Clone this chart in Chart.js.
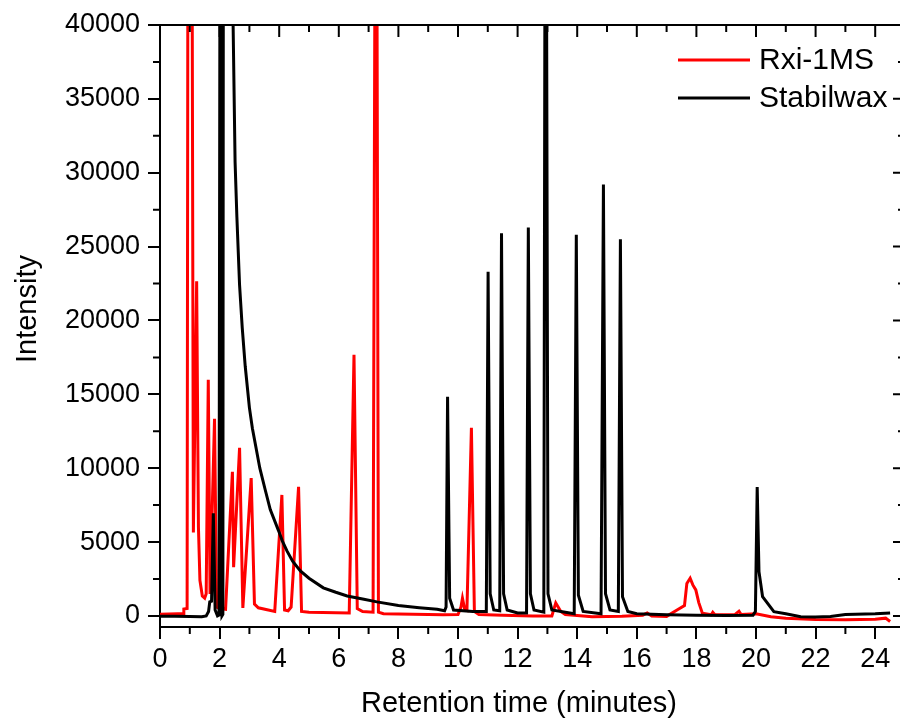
<!DOCTYPE html>
<html><head><meta charset="utf-8">
<script src="https://cdn.jsdelivr.net/npm/chart.js@4.4.1/dist/chart.umd.min.js"></script>
<style>
html,body{margin:0;padding:0;background:#fff;overflow:hidden;width:900px;height:720px;}
#wrap{position:absolute;left:0;top:0;width:906px;height:720px;}
</style></head><body>
<div id="wrap"><canvas id="c" width="906" height="720"></canvas></div>
<script>
// ---- data ----
const seriesNames = ['Rxi-1MS', 'Stabilwax'];
const axisTitles = { x: 'Retention time (minutes)', y: 'Intensity' };

const rxiTime = [0, 0.3, 0.6, 0.78, 0.8, 0.91, 0.95, 1.05, 1.12, 1.23, 1.29, 1.34, 1.42, 1.5, 1.55, 1.62, 1.68, 1.83, 1.9, 2.0, 2.2,
  2.43, 2.47, 2.67, 2.78, 3.06, 3.17, 3.3, 3.85, 4.09, 4.18, 4.3, 4.4, 4.65, 4.75, 5.0, 6.35, 6.51, 6.62, 6.8, 7.15, 7.25, 7.33, 7.5,
  8.5, 9.5, 10.0, 10.1, 10.15, 10.22, 10.3, 10.45, 10.55, 10.7, 11.5, 12.5, 13.15, 13.28, 13.45, 13.6, 14.5, 15.5, 16.2, 16.35, 16.5,
  17.0, 17.35, 17.6, 17.68, 17.79, 17.88, 17.98, 18.08, 18.2, 18.5, 18.55, 18.62, 19.3, 19.43, 19.5, 20.0, 20.5, 21.0, 22.0, 23.0,
  24.0, 24.35, 24.5];
const rxiIntensity = [120, 130, 140, 150, 470, 500, 70000, 70000, 5650, 22650, 6000, 2400, 1350, 1200, 1500, 15980, 1490, 13340, 600, 500, 450,
  9750, 3300, 11380, 540, 9330, 800, 550, 300, 8190, 400, 350, 600, 8740, 300, 250, 200, 17680, 500, 300, 250, 70000, 250, 150,
  120, 80, 100, 600, 1200, 500, 400, 12730, 300, 100, 50, 0, 0, 880, 300, 100, -50, -20, 50, 200, 0,
  -30, 400, 700, 2200, 2550, 2100, 1760, 900, 180, 80, 250, 80, 100, 320, 100, 150, -50, -150, -250, -260,
  -230, -150, -380];

const waxTime = [0, 0.5, 1.0, 1.4, 1.55, 1.63, 1.67, 1.73, 1.79, 1.85, 1.93, 1.98, 2.03, 2.08, 2.11, 2.15, 2.3, 2.45, 2.52, 2.58,
  2.67, 2.76, 2.86, 3.0, 3.1, 3.23, 3.35, 3.53, 3.7, 3.98, 4.1, 4.26, 4.45, 4.71, 5.0, 5.48, 5.9, 6.28, 6.8, 7.28, 8.0, 8.7, 9.3,
  9.55, 9.6, 9.65, 9.72, 9.85, 10.5, 10.95, 11.01, 11.08, 11.2,
  11.4, 11.46, 11.53, 11.65, 12.0, 12.3, 12.36, 12.43, 12.55, 12.88, 12.94, 13.02, 13.15, 13.9, 13.97, 14.04, 14.2, 14.8, 14.88,
  14.95, 15.1, 15.38, 15.45, 15.52, 15.7, 16.0, 17.0, 18.0, 19.0, 19.9, 19.98, 20.04, 20.1, 20.22, 20.6, 21.0, 21.5, 22.0, 22.5,
  23.0, 24.0, 24.5];
const waxIntensity = [-20, -30, -40, -50, 0, 300, 950, 1000, 6940, 400, 0, 50, 70000, 0, 100, 120000, 70000, 40500, 30700, 27000,
  22400, 19500, 16900, 14100, 12700, 11300, 10000, 8540, 7200, 5760, 5100, 4400, 3700, 3050, 2550, 1900, 1600, 1350, 1150, 950, 700, 560, 450,
  350, 600, 14830, 1200, 400, 300, 300, 23300, 1500, 400,
  350, 25900, 1500, 400, 200, 200, 26300, 1500, 400, 250, 70000, 1500, 400, 150, 25800, 1400, 300, 150, 29200,
  1500, 400, 300, 25500, 1300, 300, 150, 80, 50, 30, 50, 300, 8720, 3000, 1310, 290, 150, -50, -80, -40,
  100, 150, 200];

const xMajorTicks = [0, 2, 4, 6, 8, 10, 12, 14, 16, 18, 20, 22, 24];
const xMinorTicks = [1, 3, 5, 7, 9, 11, 13, 15, 17, 19, 21, 23, 25];
const yMajorTicks = [0, 5000, 10000, 15000, 20000, 25000, 30000, 35000, 40000];
const yMinorTicks = [2500, 7500, 12500, 17500, 22500, 27500, 32500, 37500];

const toPts = (t, v) => t.map((x, i) => ({ x: x, y: v[i] }));
const FONT = 'Liberation Sans';

const framePlugin = {
  id: 'frame',
  afterDraw(chart) {
    const ctx = chart.ctx, a = chart.chartArea, xs = chart.scales.x, ys = chart.scales.y;
    ctx.save();
    ctx.strokeStyle = '#000';
    ctx.lineWidth = 2;
    ctx.beginPath();
    ctx.moveTo(a.left - 1, a.top); ctx.lineTo(a.right, a.top);
    ctx.moveTo(a.right, a.top); ctx.lineTo(a.right, a.bottom);
    xMajorTicks.forEach(v => { const p = xs.getPixelForValue(v); ctx.moveTo(p, a.top); ctx.lineTo(p, a.top + 12); });
    xMinorTicks.forEach(v => { const p = xs.getPixelForValue(v);
      ctx.moveTo(p, a.top); ctx.lineTo(p, a.top + 7);
      ctx.moveTo(p, a.bottom); ctx.lineTo(p, a.bottom + 7); });
    yMajorTicks.forEach(v => { const p = ys.getPixelForValue(v); ctx.moveTo(a.right, p); ctx.lineTo(a.right - 12, p); });
    yMinorTicks.forEach(v => { const p = ys.getPixelForValue(v);
      ctx.moveTo(a.right, p); ctx.lineTo(a.right - 7, p);
      ctx.moveTo(a.left, p); ctx.lineTo(a.left - 7, p); });
    ctx.stroke();
    // axis titles
    ctx.fillStyle = '#000';
    ctx.font = '29px "' + FONT + '"';
    ctx.textAlign = 'center';
    ctx.textBaseline = 'alphabetic';
    ctx.fillText(axisTitles.x, 519, 712);
    ctx.save();
    ctx.translate(36, 309);
    ctx.rotate(-Math.PI / 2);
    ctx.fillText(axisTitles.y, 0, 0);
    ctx.restore();
    // legend
    ctx.font = '30px "' + FONT + '"';
    ctx.textBaseline = 'middle';
    ctx.textAlign = 'left';
    chart.data.datasets.forEach((ds, i) => {
      const y = 60 + i * 38;
      ctx.strokeStyle = ds.borderColor;
      ctx.lineWidth = 3;
      ctx.beginPath(); ctx.moveTo(678, y); ctx.lineTo(750, y); ctx.stroke();
      ctx.fillStyle = '#000';
      ctx.fillText(ds.label, 759, y + 1);
    });
    ctx.restore();
  }
};

const tickFont = { family: FONT, size: 27 };

new Chart(document.getElementById('c').getContext('2d'), {
  type: 'line',
  data: {
    datasets: [
      { label: seriesNames[0], data: toPts(rxiTime, rxiIntensity), borderColor: '#ff0000', backgroundColor: '#ff0000',
        borderWidth: 3, pointRadius: 0, tension: 0, order: 2 },
      { label: seriesNames[1], data: toPts(waxTime, waxIntensity), borderColor: '#000000', backgroundColor: '#000000',
        borderWidth: 3, pointRadius: 0, tension: 0, order: 1 }
    ]
  },
  options: {
    responsive: false, animation: false, devicePixelRatio: 1,
    layout: { padding: { top: 25, right: 1, left: 0, bottom: 0 } },
    plugins: { legend: { display: false }, tooltip: { enabled: false } },
    scales: {
      x: {
        type: 'linear', min: 0, max: 25,
        afterFit(s) { s.height = 93; },
        afterBuildTicks(s) { s.ticks = xMajorTicks.map(v => ({ value: v })); },
        ticks: { font: tickFont, color: '#000', padding: 4, maxRotation: 0, autoSkip: false, callback: v => String(v) },
        grid: { display: true, drawOnChartArea: false, drawTicks: true, tickLength: 12, lineWidth: 2, color: '#000' },
        border: { display: true, width: 2, color: '#000' }
      },
      y: {
        type: 'linear', min: -750, max: 40000,
        afterFit(s) { s.width = 160; },
        afterBuildTicks(s) { s.ticks = yMajorTicks.map(v => ({ value: v })); },
        ticks: { font: tickFont, color: '#000', padding: 8, autoSkip: false, callback: v => String(v) },
        grid: { display: true, drawOnChartArea: false, drawTicks: true, tickLength: 12, lineWidth: 2, color: '#000' },
        border: { display: true, width: 2, color: '#000' }
      }
    }
  },
  plugins: [framePlugin]
});
</script>
</body></html>
